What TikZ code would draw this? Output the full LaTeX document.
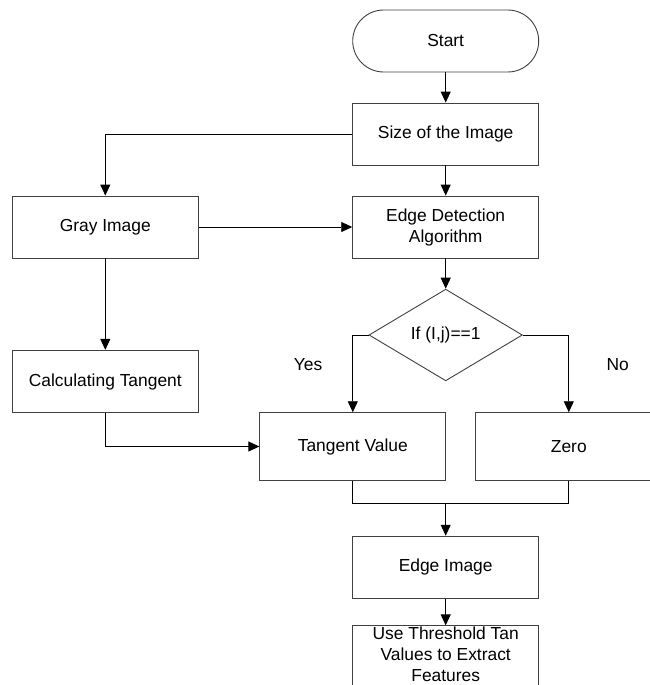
\documentclass[tikz,border=0pt]{standalone}
\usepackage{fontspec}
\setmainfont{Liberation Sans}
\usetikzlibrary{arrows.meta,shapes.geometric}
\begin{document}
\begin{tikzpicture}[x=1pt,y=-1pt,
  txt/.style={font=\fontsize{17.4}{21}\selectfont},
  box/.style={txt, draw=black!75, line width=0.9pt, minimum width=186pt, minimum height=62pt, inner sep=0pt, align=center},
  conn/.style={draw=black, line width=0.9pt},
  arr/.style={conn, -{Triangle[length=11pt,width=10pt]}}]
\useasboundingbox (0,0) rectangle (650,685);
\node[box, rounded corners=31pt] (start) at (445.7,41) {Start};
\node[box] (size) at (445.7,134) {Size of the Image};
\node[box] (gray) at (105.3,227) {Gray Image};
\node[box] (edge) at (445.7,227) {Edge Detection\\Algorithm};
\node[txt, draw=black!75, line width=0.9pt, diamond, minimum width=153.4pt, minimum height=91.7pt, inner sep=0pt] (dec) at (445.7,335) {If (I,j)==1};
\node[box, minimum height=62.4pt] (ctan) at (105.3,381.5) {Calculating Tangent};
\node[box, minimum height=67.6pt] (tv) at (352.8,446.5) {Tangent Value};
\node[box, minimum height=67.6pt] (zero) at (568.8,446.5) {Zero};
\node[box] (eimg) at (445.7,567.2) {Edge Image};
\node[box] (thr) at (445.7,656.8) {};
\node[txt, align=center, inner sep=0pt] (thrtxt) at (445.7,654.3) {Use Threshold Tan\\Values to Extract\\Features};
\node[txt] (yes) at (308,365) {Yes};
\node[txt] (no) at (617.7,365) {No};
\coordinate (j) at (445.7,503.3);
\draw[arr] (start) -- (size);
\draw[arr] (size.west) -| (gray.north);
\draw[arr] (size) -- (edge);
\draw[arr] (gray) -- (edge);
\draw[arr] (edge) -- (dec);
\draw[arr] (gray) -- (ctan);
\draw[arr] (dec.west) -| (tv.north);
\draw[arr] (dec.east) -| (zero.north);
\draw[arr] (ctan.south) |- (tv.west);
\draw[conn] (tv.south) |- (j) -| (zero.south);
\draw[arr] (j) -- (eimg);
\draw[arr] (eimg) -- (thr);
\end{tikzpicture}
\end{document}
